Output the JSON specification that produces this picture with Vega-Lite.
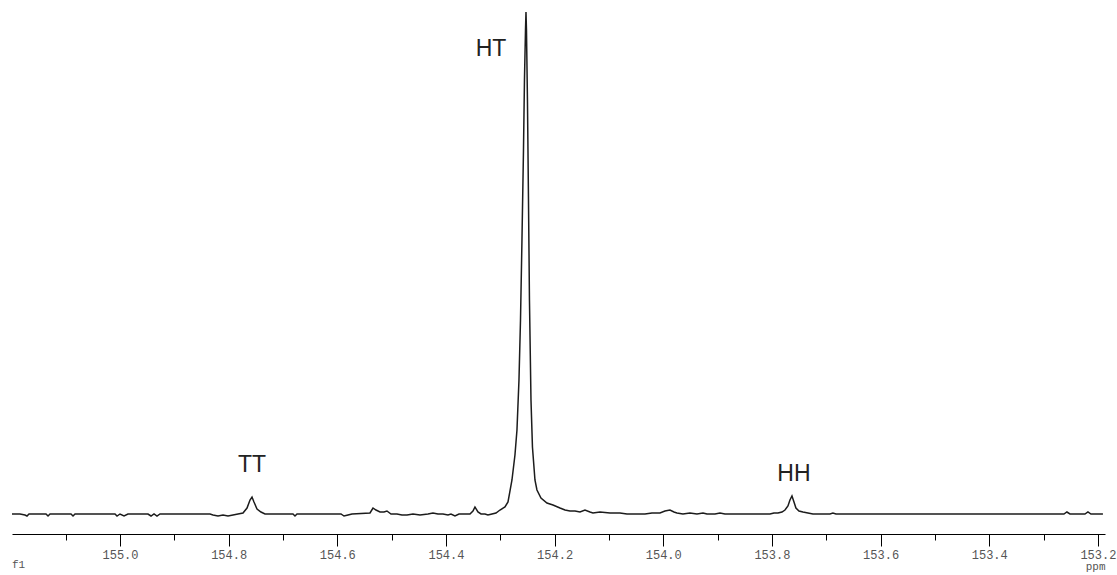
{
  "$schema": "https://vega.github.io/schema/vega-lite/v6.json",
  "width": 1093,
  "height": 534,
  "autosize": {"type": "none"},
  "padding": {"left": 12, "top": 0, "right": 12, "bottom": 41},
  "background": "white",
  "config": {"view": {"stroke": null}},
  "title": {"text": "f1", "orient": "bottom", "anchor": "start", "frame": "group", "align": "left", "font": "Liberation Mono", "fontSize": 11, "fontWeight": "normal", "color": "#555", "offset": -12},
  "datasets": {
    "spec": [
      {"ppm": 155.1988, "i": 0}, {"ppm": 155.1841, "i": 0}, {"ppm": 155.1749, "i": -1}, {"ppm": 155.1712, "i": -2}, {"ppm": 155.1675, "i": 0},
      {"ppm": 155.1362, "i": 0}, {"ppm": 155.1325, "i": -2}, {"ppm": 155.1288, "i": 0},
      {"ppm": 155.0902, "i": 0}, {"ppm": 155.0865, "i": -2}, {"ppm": 155.0828, "i": 0},
      {"ppm": 155.0092, "i": 0}, {"ppm": 155.0055, "i": -2}, {"ppm": 155.0, "i": 0}, {"ppm": 154.9926, "i": -2}, {"ppm": 154.9853, "i": 0},
      {"ppm": 154.9485, "i": 0}, {"ppm": 154.9429, "i": -2}, {"ppm": 154.9374, "i": 0}, {"ppm": 154.9319, "i": -2}, {"ppm": 154.9264, "i": 0},
      {"ppm": 154.8343, "i": 0}, {"ppm": 154.8288, "i": -1}, {"ppm": 154.8196, "i": -2}, {"ppm": 154.8104, "i": -1}, {"ppm": 154.8012, "i": -2}, {"ppm": 154.792, "i": -1}, {"ppm": 154.7828, "i": 0},
      {"ppm": 154.7736, "i": 1}, {"ppm": 154.7662, "i": 6}, {"ppm": 154.7607, "i": 14}, {"ppm": 154.757, "i": 17}, {"ppm": 154.7534, "i": 12}, {"ppm": 154.7478, "i": 5}, {"ppm": 154.7405, "i": 2}, {"ppm": 154.7331, "i": 0},
      {"ppm": 154.6816, "i": 0}, {"ppm": 154.6779, "i": -2}, {"ppm": 154.6742, "i": 0},
      {"ppm": 154.5932, "i": 0}, {"ppm": 154.5877, "i": -2}, {"ppm": 154.5803, "i": -1}, {"ppm": 154.573, "i": 0},
      {"ppm": 154.5398, "i": 1}, {"ppm": 154.5343, "i": 6}, {"ppm": 154.5288, "i": 4}, {"ppm": 154.5214, "i": 2}, {"ppm": 154.5141, "i": 2}, {"ppm": 154.5086, "i": 3}, {"ppm": 154.5012, "i": 0},
      {"ppm": 154.4902, "i": 0}, {"ppm": 154.481, "i": -1}, {"ppm": 154.4717, "i": -1}, {"ppm": 154.4607, "i": 0}, {"ppm": 154.4478, "i": -1}, {"ppm": 154.4331, "i": 0}, {"ppm": 154.4239, "i": 1}, {"ppm": 154.4147, "i": 0},
      {"ppm": 154.4055, "i": 0}, {"ppm": 154.3963, "i": -1}, {"ppm": 154.3908, "i": 0}, {"ppm": 154.3834, "i": -2}, {"ppm": 154.376, "i": 0},
      {"ppm": 154.3635, "i": 0}, {"ppm": 154.3558, "i": 0}, {"ppm": 154.3503, "i": 3}, {"ppm": 154.3466, "i": 7}, {"ppm": 154.3411, "i": 2}, {"ppm": 154.3355, "i": 0},
      {"ppm": 154.3282, "i": 0}, {"ppm": 154.3227, "i": -1}, {"ppm": 154.3153, "i": 0}, {"ppm": 154.3079, "i": 1}, {"ppm": 154.3006, "i": 4}, {"ppm": 154.2914, "i": 7},
      {"ppm": 154.2858, "i": 12}, {"ppm": 154.2785, "i": 34}, {"ppm": 154.273, "i": 59}, {"ppm": 154.2693, "i": 84}, {"ppm": 154.2656, "i": 134}, {"ppm": 154.2628, "i": 194},
      {"ppm": 154.2601, "i": 274}, {"ppm": 154.2573, "i": 364}, {"ppm": 154.2555, "i": 434}, {"ppm": 154.2536, "i": 484}, {"ppm": 154.2527, "i": 502}, {"ppm": 154.2518, "i": 484},
      {"ppm": 154.25, "i": 414}, {"ppm": 154.2481, "i": 314}, {"ppm": 154.2463, "i": 214}, {"ppm": 154.2435, "i": 114}, {"ppm": 154.2408, "i": 67}, {"ppm": 154.2362, "i": 34},
      {"ppm": 154.2325, "i": 24}, {"ppm": 154.2251, "i": 16}, {"ppm": 154.2141, "i": 11}, {"ppm": 154.203, "i": 9}, {"ppm": 154.1901, "i": 6}, {"ppm": 154.1809, "i": 4},
      {"ppm": 154.1717, "i": 3}, {"ppm": 154.1625, "i": 3}, {"ppm": 154.1533, "i": 2}, {"ppm": 154.1441, "i": 4}, {"ppm": 154.1349, "i": 2}, {"ppm": 154.1294, "i": 1},
      {"ppm": 154.1165, "i": 2}, {"ppm": 154.0981, "i": 1}, {"ppm": 154.0797, "i": 1}, {"ppm": 154.0668, "i": 0}, {"ppm": 154.0558, "i": 0}, {"ppm": 154.0337, "i": 0},
      {"ppm": 154.0208, "i": 1}, {"ppm": 154.0061, "i": 1}, {"ppm": 153.9969, "i": 3}, {"ppm": 153.9877, "i": 4}, {"ppm": 153.9803, "i": 2}, {"ppm": 153.9748, "i": 1},
      {"ppm": 153.9638, "i": 0}, {"ppm": 153.9509, "i": 1}, {"ppm": 153.938, "i": 0}, {"ppm": 153.9269, "i": 1}, {"ppm": 153.9196, "i": 0}, {"ppm": 153.9048, "i": 0},
      {"ppm": 153.8956, "i": 1}, {"ppm": 153.8864, "i": 0}, {"ppm": 153.8717, "i": 0}, {"ppm": 153.8036, "i": 0}, {"ppm": 153.7962, "i": 1}, {"ppm": 153.7889, "i": 1},
      {"ppm": 153.7815, "i": 2}, {"ppm": 153.776, "i": 4}, {"ppm": 153.7705, "i": 8}, {"ppm": 153.7668, "i": 14}, {"ppm": 153.7631, "i": 18}, {"ppm": 153.7594, "i": 12},
      {"ppm": 153.7558, "i": 6}, {"ppm": 153.7502, "i": 3}, {"ppm": 153.7429, "i": 2}, {"ppm": 153.7337, "i": 1}, {"ppm": 153.7245, "i": 0},
      {"ppm": 153.6932, "i": 0}, {"ppm": 153.6877, "i": 1}, {"ppm": 153.6821, "i": 0},
      {"ppm": 153.2625, "i": 0}, {"ppm": 153.257, "i": 2}, {"ppm": 153.2514, "i": 0},
      {"ppm": 153.2238, "i": 0}, {"ppm": 153.2183, "i": 2}, {"ppm": 153.2128, "i": 0}, {"ppm": 153.1907, "i": 0}
    ],
    "labels": [
      {"label": "HT", "ppm": 154.3171, "i": 465.5},
      {"label": "TT", "ppm": 154.757, "i": 49},
      {"label": "HH", "ppm": 153.7594, "i": 40.5}
    ]
  },
  "layer": [
    {
      "data": {"name": "spec"},
      "mark": {"type": "line", "color": "#1c1c1c", "strokeWidth": 1.5},
      "encoding": {
        "x": {
          "field": "ppm", "type": "quantitative",
          "scale": {"domain": [153.1869, 155.1988], "reverse": true, "nice": false, "zero": false},
          "axis": {
            "values": [153.2, 153.3, 153.4, 153.5, 153.6, 153.7, 153.8, 153.9, 154.0, 154.1, 154.2, 154.3, 154.4, 154.5, 154.6, 154.7, 154.8, 154.9, 155.0, 155.1],
            "tickSize": {"condition": {"test": "round(datum.value*10) % 2 == 0", "value": 12}, "value": 6},
            "labelExpr": "round(datum.value*10) % 2 == 0 ? format(datum.value, '.1f') : ''",
            "grid": false,
            "domainColor": "#000",
            "tickColor": "#000",
            "labelFont": "Liberation Mono",
            "labelFontSize": 12,
            "labelColor": "#555",
            "labelPadding": 3,
            "labelFlush": false,
            "labelOverlap": false,
            "title": "ppm",
            "titleAnchor": "start",
            "titleAlign": "right",
            "titleFont": "Liberation Mono",
            "titleFontSize": 11,
            "titleFontWeight": "normal",
            "titleColor": "#555",
            "titlePadding": 0
          }
        },
        "y": {
          "field": "i", "type": "quantitative",
          "scale": {"domain": [-20, 514], "nice": false, "zero": false},
          "axis": null
        }
      }
    },
    {
      "data": {"name": "labels"},
      "mark": {"type": "text", "font": "Liberation Sans", "fontSize": 23, "color": "#222", "align": "center", "baseline": "middle"},
      "encoding": {
        "x": {"field": "ppm", "type": "quantitative"},
        "y": {"field": "i", "type": "quantitative"},
        "text": {"field": "label"}
      }
    }
  ]
}
